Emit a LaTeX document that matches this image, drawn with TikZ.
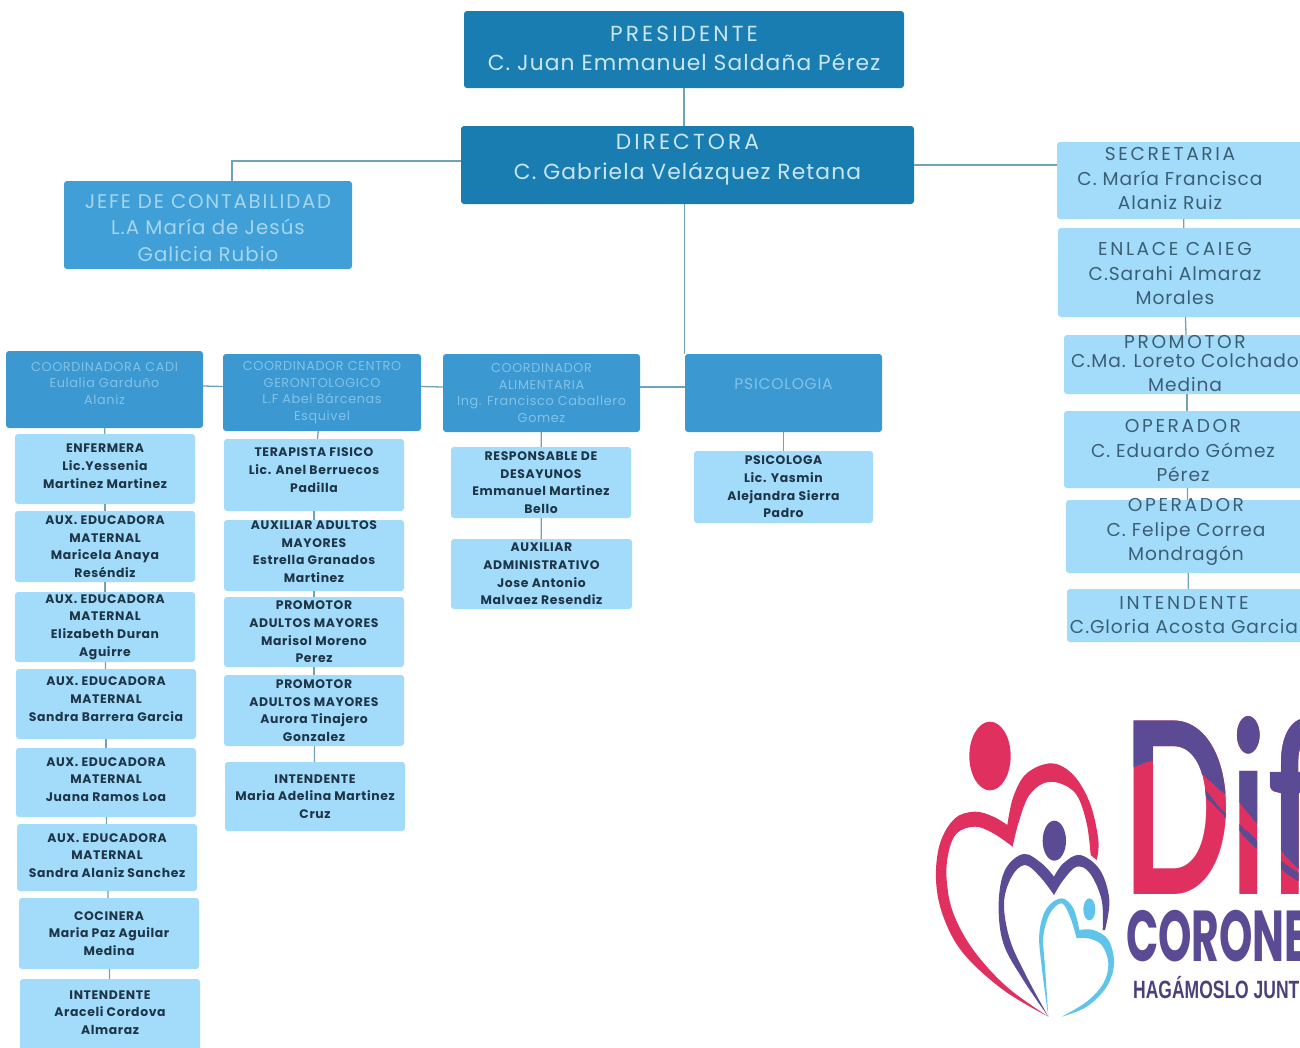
\documentclass[tikz,border=0pt]{standalone}
\usepackage{fontspec}
\setmainfont{Lato}
\newfontfamily\orgfont[LetterSpace=5]{Poppins}
\newfontfamily\capfont[LetterSpace=14]{Poppins}
\newfontfamily\jefecap[LetterSpace=9]{Poppins}
\newfontfamily\staffont[LetterSpace=5]{Poppins}
\newfontfamily\hagafont{Liberation Sans}
\newfontfamily\logofont{Poppins}
\usetikzlibrary{calc}
\definecolor{topblue}{HTML}{1A7DB2}
\definecolor{jefeblue}{HTML}{3F9FD6}
\definecolor{coordblue}{HTML}{3C98D0}
\definecolor{lightblue}{HTML}{A3DBFA}
\definecolor{headtext}{HTML}{C9E6F5}
\definecolor{jefetext}{HTML}{A5D6F0}
\definecolor{coordtext}{HTML}{80C3E8}
\definecolor{staftext}{HTML}{1D3547}
\definecolor{righttext}{HTML}{3A5F75}
\definecolor{linkgray}{HTML}{6FA3B8}
\definecolor{difred}{HTML}{E0305F}
\definecolor{difpurple}{HTML}{5B4A94}
\definecolor{difsky}{HTML}{5FC3EA}
\tikzset{
	topbox/.style={fill=topblue,text=headtext,rounded corners=3pt,inner sep=0pt,align=center,font=\orgfont\fontsize{21.8}{29.5}\selectfont},
	jefebox/.style={fill=jefeblue,text=jefetext,rounded corners=3pt,inner sep=0pt,align=center,font=\orgfont\fontsize{19.8}{26.5}\selectfont},
	coordbox/.style={fill=coordblue,text=coordtext,rounded corners=3pt,inner sep=0pt,align=center,font=\orgfont\fontsize{12.8}{16.5}\selectfont},
	stafbox/.style={fill=lightblue,text=staftext,rounded corners=3pt,inner sep=0pt,align=center,font=\staffont\bfseries\fontsize{12.4}{17.7}\selectfont},
	rightbox/.style={fill=lightblue,rounded corners=3pt,inner sep=0pt},
	righttxt/.style={text=righttext,inner sep=0pt,align=center,font=\orgfont\fontsize{18.6}{24.5}\selectfont},
	link/.style={draw=linkgray,line width=1.3pt},
	logotext/.style={anchor=south west,inner sep=0pt,xscale=.6,font=\bfseries\fontsize{240}{240}\selectfont},
}
\begin{document}
\begin{tikzpicture}[x=1pt,y=-1pt]
\useasboundingbox (0,0) rectangle (1300,1047);
\clip (0,0) rectangle (1300,1047);
%top of the chart
\node (pres) at (684,49.5) [topbox,minimum width=440,minimum height=77,text depth=2pt] {{\capfont PRESIDENTE}\\C. Juan Emmanuel Saldaña Pérez};
\node (dir) at (687.5,165) [topbox,minimum width=453,minimum height=78,text depth=16pt] {{\capfont DIRECTORA}\\C. Gabriela Velázquez Retana};
\node (jefe) at (208,225) [jefebox,minimum width=288,minimum height=88,text height=73pt] {{\jefecap JEFE DE CONTABILIDAD}\\L.A María de Jesús\\Galicia Rubio};
\coordinate (jefeTop) at (232,181);
%coordinators
\node (cadi) at (104.5,389.5) [coordbox,minimum width=197,minimum height=77,text depth=13pt] {COORDINADORA CADI\\Eulalia Garduño\\Alaniz};
\node (centro) at (322,392.5) [coordbox,minimum width=198,minimum height=77] {COORDINADOR CENTRO\\GERONTOLOGICO\\L.F Abel Bárcenas\\Esquivel};
\node (alim) at (541.5,393) [coordbox,minimum width=197,minimum height=78] {COORDINADOR\\ALIMENTARIA\\Ing. Francisco Caballero\\Gomez};
\node (psi) at (783.5,393) [coordbox,minimum width=197,minimum height=78,text depth=18pt,font=\orgfont\fontsize{15.5}{16.5}\selectfont] {PSICOLOGIA};
%first column
\node (enf) at (105,469) [stafbox,minimum width=180,minimum height=70,text depth=6pt] {ENFERMERA\\Lic.Yessenia\\Martinez Martinez};
\node (auxa) at (105,546.5) [stafbox,minimum width=180,minimum height=71] {AUX. EDUCADORA\\MATERNAL\\Maricela Anaya\\Reséndiz};
\node (auxb) at (105,627) [stafbox,minimum width=180,minimum height=70] {AUX. EDUCADORA\\MATERNAL\\Elizabeth Duran\\Aguirre};
\node (auxc) at (106,704) [stafbox,minimum width=180,minimum height=70,text depth=10pt] {AUX. EDUCADORA\\MATERNAL\\Sandra Barrera Garcia};
\node (auxd) at (106,782.5) [stafbox,minimum width=180,minimum height=69,text depth=6pt] {AUX. EDUCADORA\\MATERNAL\\Juana Ramos Loa};
\node (auxe) at (107,857.5) [stafbox,minimum width=180,minimum height=67,text depth=4pt] {AUX. EDUCADORA\\MATERNAL\\Sandra Alaniz Sanchez};
\node (coc) at (109,933.5) [stafbox,minimum width=180,minimum height=71] {COCINERA\\Maria Paz Aguilar\\Medina};
\node (intA) at (110,1018) [stafbox,minimum width=180,minimum height=78,text depth=11pt] {INTENDENTE\\Araceli Cordova\\Almaraz};
%second column
\node (ter) at (314,475) [stafbox,minimum width=180,minimum height=72,text depth=10pt] {TERAPISTA FISICO\\Lic. Anel Berruecos\\Padilla};
\node (adu) at (314,555.5) [stafbox,minimum width=180,minimum height=71,text depth=8pt] {AUXILIAR ADULTOS\\MAYORES\\Estrella Granados\\Martinez};
\node (proa) at (314,632) [stafbox,minimum width=180,minimum height=70] {PROMOTOR\\ADULTOS MAYORES\\Marisol Moreno\\Perez};
\node (prob) at (314,710.5) [stafbox,minimum width=180,minimum height=71] {PROMOTOR\\ADULTOS MAYORES\\Aurora Tinajero\\Gonzalez};
\node (intB) at (315,796.5) [stafbox,minimum width=180,minimum height=69] {INTENDENTE\\Maria Adelina Martinez\\Cruz};
%third and fourth column
\node (res) at (541,482.5) [stafbox,minimum width=180,minimum height=71] {RESPONSABLE DE\\DESAYUNOS\\Emmanuel Martinez\\Bello};
\node (adm) at (541.5,574) [stafbox,minimum width=181,minimum height=70] {AUXILIAR\\ADMINISTRATIVO\\Jose Antonio\\Malvaez Resendiz};
\node (psa) at (783.5,487) [stafbox,minimum width=179,minimum height=72] {PSICOLOGA\\Lic. Yasmin\\Alejandra Sierra\\Padro};
%right column, cut by the page
\node (sec) at (1183.5,180.5) [rightbox,minimum width=253,minimum height=77] {};
\node (enl) at (1184,272.5) [rightbox,minimum width=252,minimum height=89] {};
\node (pro) at (1187,364.5) [rightbox,minimum width=246,minimum height=59] {};
\node (opa) at (1187,449.5) [rightbox,minimum width=246,minimum height=77] {};
\node (opb) at (1188,536.5) [rightbox,minimum width=244,minimum height=73] {};
\node (intC) at (1188.5,615.5) [rightbox,minimum width=243,minimum height=53] {};
\node (secT) at (1170,179) [righttxt] {{\capfont SECRETARIA}\\C. María Francisca\\Alaniz Ruiz};
\node (enlT) at (1175,274) [righttxt] {{\capfont ENLACE CAIEG}\\C.Sarahi Almaraz\\Morales};
\node (proT) at (1185,364) [righttxt] {{\capfont PROMOTOR}\\[-6pt]C.Ma. Loreto Colchado\\Medina};
\node (opaT) at (1183,451) [righttxt] {{\capfont OPERADOR}\\C. Eduardo Gómez\\Pérez};
\node (opbT) at (1186,532) [righttxt] {{\capfont OPERADOR}\\C. Felipe Correa\\Mondragón};
\node (intCT) at (1184,615) [righttxt] {{\capfont INTENDENTE}\\C.Gloria Acosta Garcia};
%connectors
\draw [link] (pres) -- (dir.north -| pres);
\draw [link] ($(dir.west)+(0,-4)$) -| (jefeTop);
\draw [link] (dir.east) -- (dir.east -| sec.west);
\draw [link] (dir.south -| psi.west) -- (psi.north west);
\draw [link] ($(cadi.east)+(0,-3.5)$) -- ($(centro.west)+(0,-6)$);
\draw [link] ($(centro.east)+(0,-6)$) -- ($(alim.west)+(0,-6)$);
\draw [link] ($(alim.east)+(0,-6)$) -- ($(psi.west)+(0,-6)$);
\foreach \a/\b in {cadi/enf,enf/auxa,auxa/auxb,auxb/auxc,auxc/auxd,auxd/auxe,auxe/coc,coc/intA,centro/ter,ter/adu,adu/proa,proa/prob,prob/intB,alim/res,res/adm,psi/psa,sec/enl,enl/pro,pro/opa,opa/opb,opb/intC}
	\draw [link] (\a) -- (\b);
%logo, hearts drawn in units of a third of a pixel
\begin{scope}[shift={(920,700)},scale=1/3]
\fill [difred] (210,168) ellipse [x radius=62,y radius=103];
\fill [difpurple] (403,422) ellipse [x radius=35,y radius=60];
\fill [difsky] (508,628) ellipse [x radius=18,y radius=33];
\fill [difred] plot [smooth,tension=.6] coordinates {(385,950) (250,870) (130,760) (70,650) (48,540) (60,430) (105,355) (165,335) (220,350) (262,375)}
	-- plot [smooth,tension=.6] coordinates {(262,375) (280,290) (320,220) (395,190) (460,225) (510,310) (535,420) (530,480)}
	-- plot [smooth,tension=.6] coordinates {(512,465) (500,370) (470,285) (420,250) (370,250) (325,290) (295,370) (278,440)}
	-- plot [smooth,tension=.6] coordinates {(278,440) (220,400) (165,380) (110,400) (85,460) (80,540) (100,640) (160,750) (260,860) (385,950)} -- cycle;
\fill [difpurple] plot [smooth,tension=.6] coordinates {(385,950) (310,840) (250,730) (236,610) (255,510) (310,462) (365,490) (402,530)}
	-- plot [smooth,tension=.6] coordinates {(402,530) (430,490) (480,465) (540,510) (568,600) (555,690)}
	-- plot [smooth,tension=.6] coordinates {(548,690) (545,600) (510,520) (470,500) (430,540) (402,585)}
	-- plot [smooth,tension=.6] coordinates {(402,585) (360,530) (315,495) (275,530) (252,610) (270,720) (320,830) (385,950)} -- cycle;
\fill [difsky] plot [smooth,tension=.6] coordinates {(385,950) (365,800) (358,700) (380,625) (425,595) (460,625) (478,690)}
	-- plot [smooth,tension=.6] coordinates {(478,690) (520,690) (565,720) (582,790) (560,860) (500,920) (425,950)}
	-- plot [smooth,tension=.6] coordinates {(425,950) (500,905) (550,850) (565,790) (545,735) (505,715) (470,715)}
	-- plot [smooth,tension=.6] coordinates {(470,715) (450,650) (425,610) (390,640) (370,710) (375,800) (385,950)} -- cycle;
\end{scope}
%logo letters, red with the purple of the wave laid over it
\node (dif) at (1122,895) [logotext,text=difred] {Dif};
\begin{scope}
\clip [shift={(920,700)},scale=1/3] plot [smooth] coordinates {(600,215) (700,180) (780,185) (850,225) (900,270) (950,300) (1010,370) (1100,470) (1140,510)} -- (1140,0) -- (600,0) -- cycle
	plot [smooth] coordinates {(800,225) (850,262) (900,325) (950,365) (1010,420) (1100,495) (1140,520)} -- plot [smooth] coordinates {(1140,545) (1100,520) (1010,445) (950,385) (900,335) (830,260)} -- cycle;
\node (difTop) at (1122,895) [logotext,text=difpurple] {Dif};
\end{scope}
\node (coro) at (1126,936) [anchor=west,inner sep=0pt,xscale=.59,text=difpurple,font=\logofont\bfseries\fontsize{72}{72}\selectfont] {CORONE};
\node (haga) at (1133,988) [anchor=west,inner sep=0pt,xscale=.70,text=difpurple!85!black,font=\hagafont\bfseries\fontsize{25}{25}\selectfont] {HAGÁMOSLO JUNT};
\end{tikzpicture}
\end{document}
